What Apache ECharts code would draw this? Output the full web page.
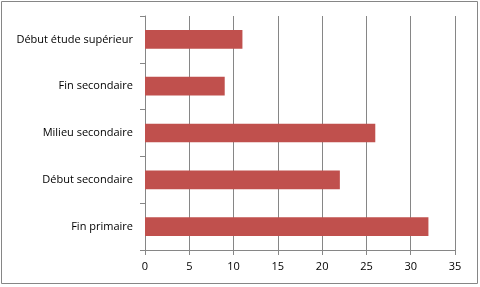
<!DOCTYPE html>
<html>
<head>
<meta charset="utf-8">
<script src="https://cdn.jsdelivr.net/npm/echarts@6/dist/echarts.min.js"></script>
<style>
html,body{margin:0;padding:0;background:#fff;}
#main{width:480px;height:287px;}
</style>
</head>
<body>
<div id="main"></div>
<script>
const categories = ['Fin primaire', 'Début secondaire', 'Milieu secondaire', 'Fin secondaire', 'Début étude supérieur'];
const values = [32, 22, 26, 9, 11];
const xTicks = [0, 5, 10, 15, 20, 25, 30, 35];

const chart = echarts.init(document.getElementById('main'), null, {renderer: 'canvas'});
const gridColor = '#868686';
const font = '"Open Sans", Lato, sans-serif';
chart.setOption({
  animation: false,
  graphic: [{
    type: 'rect',
    shape: {x: 1.5, y: 1.5, width: 476, height: 282},
    style: {fill: 'none', stroke: gridColor, lineWidth: 1},
    silent: true
  }],
  grid: {left: 145, right: 25, top: 16, bottom: 37, containLabel: false},
  xAxis: {
    type: 'value',
    min: xTicks[0],
    max: xTicks[xTicks.length - 1],
    interval: xTicks[1] - xTicks[0],
    axisLine: {show: true, lineStyle: {color: gridColor, width: 1}},
    axisTick: {show: true, length: 5, lineStyle: {color: gridColor}},
    splitLine: {show: true, lineStyle: {color: gridColor, width: 1}},
    axisLabel: {color: '#000', fontSize: 11, fontFamily: font, margin: 11}
  },
  yAxis: {
    type: 'category',
    data: categories,
    axisLine: {show: true, lineStyle: {color: gridColor, width: 1}},
    axisTick: {show: true, length: 5, alignWithLabel: false, lineStyle: {color: gridColor}},
    splitLine: {show: false},
    axisLabel: {color: '#000', fontSize: 11, fontFamily: font, margin: 12}
  },
  series: [{
    type: 'bar',
    data: values,
    barCategoryGap: '60%',
    itemStyle: {color: '#C0504D'}
  }]
});
</script>
</body>
</html>
